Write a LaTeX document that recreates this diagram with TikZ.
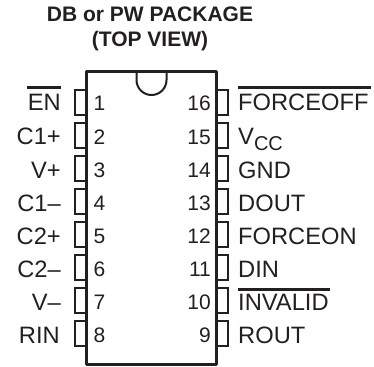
\documentclass[tikz,border=0pt]{standalone}
\usepackage{fontspec}
\setmainfont{Liberation Sans}
\definecolor{ink}{HTML}{231F20}
\newcommand{\lblfont}{\fontsize{23.7}{23.7}\selectfont}
\newcommand{\numfont}{\fontsize{21}{21}\selectfont}
\newcommand{\ttlfont}{\fontsize{21}{21}\selectfont\bfseries}
\tikzset{
  x=1pt,y=-1pt,
  chipline/.style={draw=ink,line width=2.8pt,line join=round},
  pinbox/.style={draw=ink,line width=1.8pt,rectangle,minimum width=12pt,minimum height=24.5pt,inner sep=0pt,outer sep=0pt},
  leftlbl/.style={text=ink,anchor=base east,inner sep=0pt,font=\lblfont},
  rightlbl/.style={text=ink,anchor=base west,inner sep=0pt,font=\lblfont},
  lnum/.style={text=ink,anchor=base west,inner sep=0pt,font=\numfont},
  rnum/.style={text=ink,anchor=base east,inner sep=0pt,font=\numfont},
  title/.style={text=ink,anchor=base,inner sep=0pt,font=\ttlfont},
  overbar/.style={draw=ink,line width=3pt}
}
\begin{document}
\begin{tikzpicture}
\useasboundingbox (0,0) rectangle (374,366);
\node[title] (t1) at (150,21.5) {DB or PW PACKAGE};
\node[title] (t2) at (150,46.5) {(TOP VIEW)};
% pins
\foreach \i/\y in {1/102.5,2/135.5,3/168.5,4/201.5,5/234.5,6/267.5,7/300.5,8/333.5}{
  \node[pinbox] (pl\i) at (81,\y) {};
}
\foreach \i/\y in {16/102.5,15/135.5,14/168.5,13/201.5,12/234.5,11/267.5,10/300.5,9/333.5}{
  \node[pinbox] (pr\i) at (222,\y) {};
}
% body
\draw[chipline] (86.5,71.5) -- (86.5,364.5) -- (216.5,364.5) -- (216.5,71.5) -- cycle;
\draw[draw=ink,line width=2pt] (136.5,71.5) -- (136.5,80) arc[start angle=180,end angle=0,x radius=15,y radius=15] -- (166.5,71.5);
% pin numbers
\foreach \i/\y in {1/111,2/144,3/177,4/210,5/243,6/276,7/309,8/342}{
  \node[lnum] (nl\i) at (93.5,\y) {\i};
}
\foreach \i/\y in {16/111,15/144,14/177,13/210,12/243,11/276,10/309,9/342}{
  \node[rnum] (nr\i) at (211,\y) {\i};
}
% left labels
\node[leftlbl] (en) at (61,111) {EN};
\node[leftlbl] (c1p) at (61,145) {C1+};
\node[leftlbl] (vp) at (61,178) {V+};
\node[leftlbl] (c1m) at (61,211) {C1–};
\node[leftlbl] (c2p) at (61,244) {C2+};
\node[leftlbl] (c2m) at (61,277) {C2–};
\node[leftlbl] (vm) at (61,310) {V–};
\node[leftlbl] (rin) at (60,343) {RIN};
% right labels
\node[rightlbl] (foff) at (238,111) {FORCEOFF};
\node[rightlbl] (vcc) at (238,145) {V\raisebox{-5.5pt}{\fontsize{20}{20}\selectfont CC}};
\node[rightlbl] (gnd) at (238,178) {GND};
\node[rightlbl] (dout) at (238,211) {DOUT};
\node[rightlbl] (fon) at (238,244) {FORCEON};
\node[rightlbl] (din) at (238,277) {DIN};
\node[rightlbl] (inv) at (238,310) {INVALID};
\node[rightlbl] (rout) at (238,343) {ROUT};
% overbars
\draw[overbar] (27,88) -- (61,88);
\draw[overbar] (238,88) -- (371,88);
\draw[overbar] (238,289) -- (330,289);
\end{tikzpicture}
\end{document}
